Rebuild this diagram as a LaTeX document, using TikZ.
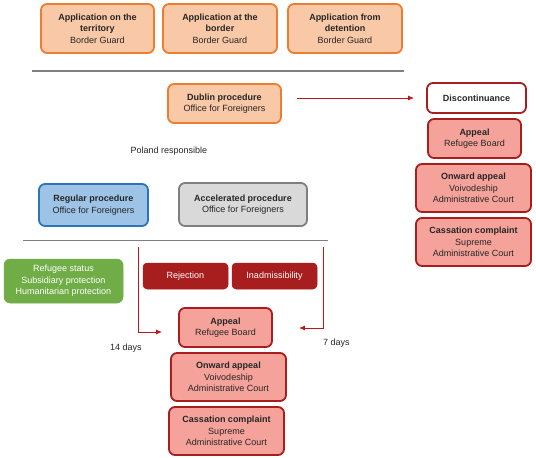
\documentclass[tikz,border=0pt]{standalone}
\usepackage{fontspec}
\setmainfont{Liberation Sans}
\usetikzlibrary{calc,arrows.meta}
\definecolor{orfill}{HTML}{F9C8A6}
\definecolor{ordraw}{HTML}{ED7D31}
\definecolor{blfill}{HTML}{9DC3E6}
\definecolor{bldraw}{HTML}{2E75B6}
\definecolor{grfill}{HTML}{D9D9D9}
\definecolor{grdraw}{HTML}{7F7F7F}
\definecolor{green1}{HTML}{70AD47}
\definecolor{dred}{HTML}{A81E1E}
\definecolor{pinkfill}{HTML}{F5A29A}
\definecolor{arrred}{HTML}{C0161B}
\definecolor{rule}{HTML}{7F7F7F}
\tikzset{
  box/.style={rounded corners=6pt, line width=1.8pt, align=center, inner sep=1pt,
    font=\fontsize{9}{11.6}\selectfont, text=black!85},
  orbox/.style={box, fill=orfill, draw=ordraw},
  blbox/.style={box, fill=blfill, draw=bldraw},
  grbox/.style={box, fill=grfill, draw=grdraw},
  pkbox/.style={box, fill=pinkfill, draw=dred},
  whbox/.style={box, fill=white, draw=dred},
  gnbox/.style={box, fill=green1, draw=green1, text=white, line width=0.5pt},
  drbox/.style={box, fill=dred, draw=dred, text=white, line width=0.5pt, rounded corners=4pt},
  lbl/.style={font=\fontsize{9}{11}\selectfont, text=black!85},
  arr/.style={draw=arrred, line width=0.9pt, -{Latex[length=6pt,width=5pt]}},
  sep/.style={draw=rule, line width=1.4pt}
}
\begin{document}
\begin{tikzpicture}[x=1pt,y=-1pt]
\useasboundingbox (0,0) rectangle (536,458);
% top row
\node[orbox, minimum width=113pt, minimum height=49pt] (t1) at (97.5,28.5) {\textbf{Application on the}\\\textbf{territory}\\Border Guard};
\node[orbox, minimum width=114pt, minimum height=49pt] (t2) at (220,28.5) {\textbf{Application at the}\\\textbf{border}\\Border Guard};
\node[orbox, minimum width=114pt, minimum height=49pt] (t3) at (345,28.5) {\textbf{Application from}\\\textbf{detention}\\Border Guard};
\coordinate (s1a) at (32,71);
\coordinate (s1b) at (404,71);
\draw[sep] (s1a) -- (s1b);
% dublin
\node[orbox, minimum width=113pt, minimum height=39pt] (dub) at (224.5,103.5) {\textbf{Dublin procedure}\\Office for Foreigners};
\node[whbox, minimum width=99pt, minimum height=30pt] (disc) at (476.5,98) {\textbf{Discontinuance}};
\draw[arr] ($(dub.east |- disc.west)+(15pt,0)$) -- ([xshift=-12pt]disc.west);
\node[pkbox, minimum width=93pt, minimum height=39pt] (appR) at (474.5,138.5) {\textbf{Appeal}\\Refugee Board};
\node[pkbox, minimum width=115pt, minimum height=48pt] (onwR) at (473.5,188) {\textbf{Onward appeal}\\Voivodeship\\Administrative Court};
\node[pkbox, minimum width=115pt, minimum height=48pt] (casR) at (473.5,242) {\textbf{Cassation complaint}\\Supreme\\Administrative Court};
% poland
\node[lbl] (pol) at (169,151) {Poland responsible};
\node[blbox, minimum width=109pt, minimum height=42pt] (reg) at (93.5,205) {\textbf{Regular procedure}\\Office for Foreigners};
\node[grbox, minimum width=128pt, minimum height=43pt] (acc) at (243,204.5) {\textbf{Accelerated procedure}\\Office for Foreigners};
\coordinate (s2a) at (23,240);
\coordinate (s2b) at (328,240);
\draw[sep, line width=1pt] (s2a) -- (s2b);
% outcomes
\node[gnbox, minimum width=119pt, minimum height=44pt] (grn) at (63.5,281) {Refugee status\\Subsidiary protection\\Humanitarian protection};
\node[drbox, minimum width=85pt, minimum height=26pt] (rej) at (185.5,276) {Rejection};
\node[drbox, minimum width=85pt, minimum height=26pt] (inad) at (274.5,276) {Inadmissibility};
% bottom chain
\node[pkbox, minimum width=93pt, minimum height=39pt] (appB) at (225.5,327.5) {\textbf{Appeal}\\Refugee Board};
\node[pkbox, minimum width=115pt, minimum height=48pt] (onwB) at (228.5,377) {\textbf{Onward appeal}\\Voivodeship\\Administrative Court};
\node[pkbox, minimum width=115pt, minimum height=48pt] (casB) at (226.5,431) {\textbf{Cassation complaint}\\Supreme\\Administrative Court};
% arrows into appeal
\coordinate (lt) at (138,247);
\coordinate (rt) at (323,247);
\draw[arr] (lt) |- ([xshift=-16pt,yshift=-4.5pt]appB.west);
\draw[arr] (rt) |- ([xshift=26pt,yshift=-0.5pt]appB.east);
\node[lbl] (d14) at (126,348) {14 days};
\node[lbl] (d7) at (336.5,343) {7 days};
\end{tikzpicture}
\end{document}
